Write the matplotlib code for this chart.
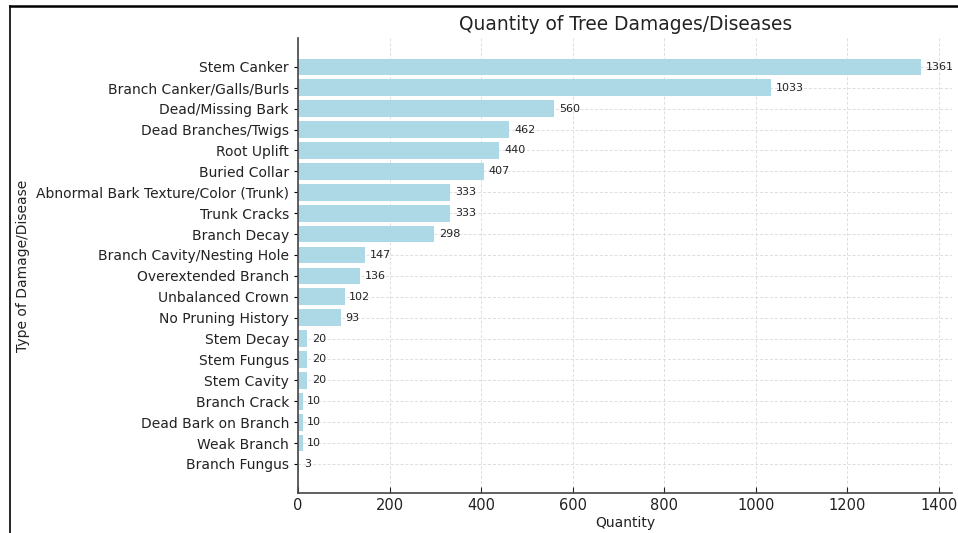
import matplotlib
matplotlib.use("Agg")
import matplotlib.pyplot as plt
from matplotlib.lines import Line2D

# damage / disease categories and counts (top to bottom)
categories = [
    "Stem Canker", "Branch Canker/Galls/Burls", "Dead/Missing Bark",
    "Dead Branches/Twigs", "Root Uplift", "Buried Collar",
    "Abnormal Bark Texture/Color (Trunk)", "Trunk Cracks", "Branch Decay",
    "Branch Cavity/Nesting Hole", "Overextended Branch", "Unbalanced Crown",
    "No Pruning History", "Stem Decay", "Stem Fungus", "Stem Cavity",
    "Branch Crack", "Dead Bark on Branch", "Weak Branch", "Branch Fungus",
]
counts = [1361, 1033, 560, 462, 440, 407, 333, 333, 298, 147, 136, 102, 93,
          20, 20, 20, 10, 10, 10, 3]

plt.rcParams["font.family"] = ["DejaVu Sans"]

fig = plt.figure(figsize=(9.58, 5.33), dpi=100)
ax = fig.add_axes([0.311, 0.075, 0.683, 0.854])

ypos = list(range(len(categories)))
ax.barh(ypos, counts, color="lightblue", height=0.8, zorder=2)
ax.invert_yaxis()
ax.set_yticks(ypos)
ax.set_yticklabels(categories, fontsize=10, color="#222222")

for y, v in zip(ypos, counts):
    ax.text(v + 10, y, str(v), va="center", ha="left", fontsize=8,
            color="#222222", zorder=3)

ax.set_title("Quantity of Tree Damages/Diseases", fontsize=13.4,
             color="#222222")
ax.set_xlabel("Quantity", fontsize=10, color="#222222", labelpad=2)
ax.set_ylabel("Type of Damage/Disease", fontsize=10, color="#222222")
ax.tick_params(axis="x", direction="in", labelsize=10.5, colors="#222222",
               length=4)
ax.tick_params(axis="y", direction="out", length=3)

ax.grid(True, linestyle=(0, (3, 2)), color="#dddddd", linewidth=0.7, zorder=0)
ax.set_axisbelow(True)
for side in ("top", "right"):
    ax.spines[side].set_visible(False)
for side in ("left", "bottom"):
    ax.spines[side].set_color("#444444")
    ax.spines[side].set_linewidth(1.2)

# outer frame edges
fig.add_artist(Line2D([0.0105, 1.0], [0.989, 0.989], color="black",
                      linewidth=1.8, transform=fig.transFigure))
fig.add_artist(Line2D([0.0105, 0.0105], [0.0, 0.989], color="black",
                      linewidth=1.2, transform=fig.transFigure))

fig.savefig("out.png", dpi=100)
